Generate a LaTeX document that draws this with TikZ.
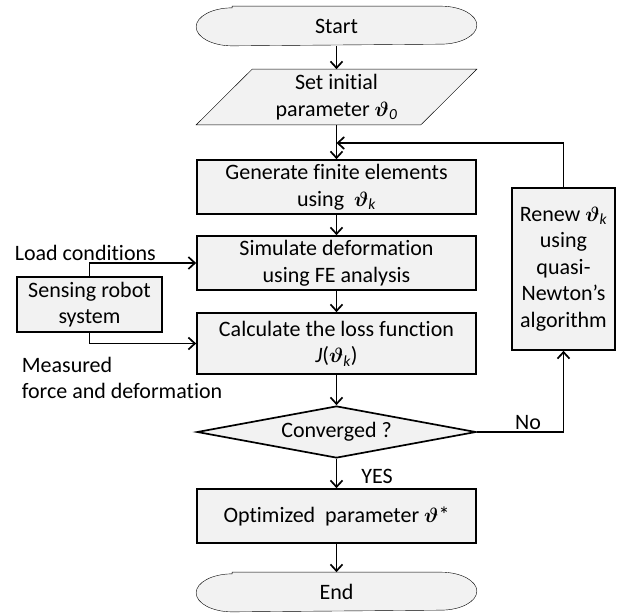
\documentclass[tikz,border=0pt]{standalone}
\usepackage{fontspec}
\setmainfont[Ligatures=NoCommon]{Carlito}
\usetikzlibrary{arrows.meta,shapes.geometric,backgrounds,calc}
\definecolor{boxfill}{HTML}{F2F2F2}
\newcommand{\vth}{$\boldsymbol{\vartheta}$}
\usepackage{amsmath}
\begin{document}
\begin{tikzpicture}[x=1pt,y=-1pt,
  font=\fontsize{22}{26.5}\selectfont,
  line width=1.7pt,
  arr/.style={-{Straight Barb[length=6.5pt,width=12pt,line width=1.7pt]}},
  procbox/.style={draw, fill=boxfill, align=center, inner sep=0pt},
  flowbox/.style={procbox, minimum width=279pt, minimum height=54pt},
  shapefill/.style={draw, fill=boxfill},
  plain/.style={inner sep=0pt, align=center}]
\useasboundingbox (0,0) rectangle (621,614);

% terminals and input: text nodes, outlines drawn on the background layer
\node[plain, minimum width=279pt, minimum height=38pt] (start) at (336.5,26) {Start};
\node[plain, minimum width=223pt, minimum height=54pt] (init) at (336.5,97) {Set initial\\parameter \vth\textsubscript{\itshape 0}};
\node[plain, minimum width=279pt, minimum height=38pt] (end) at (336.5,592) {End};

\begin{scope}[on background layer]
  \foreach \t in {start,end}{
    \filldraw[shapefill] ([xshift=36pt]\t.north west) -- ([xshift=-36pt]\t.north east)
      arc[start angle=90,end angle=-90,x radius=36pt,y radius=19pt]
      -- ([xshift=36pt]\t.south west)
      arc[start angle=270,end angle=90,x radius=36pt,y radius=19pt] -- cycle;
  }
  \filldraw[shapefill] ([xshift=28pt]init.north west) -- ([xshift=28pt]init.north east)
    -- ([xshift=-28pt]init.south east) -- ([xshift=-28pt]init.south west) -- cycle;
\end{scope}

% process boxes
\node[flowbox] (gen) at (336.5,187) {Generate finite elements\\using\ \ \vth\textsubscript{\itshape k}};
\node[flowbox] (sim) at (336.5,263) {Simulate deformation\\using FE analysis};
\node[flowbox, minimum height=61pt] (calc) at (336.5,343.5) {Calculate the loss function\\{\itshape J}(\vth\textsubscript{\itshape k})};
\node[draw, fill=boxfill, diamond, aspect=5.37, minimum width=279pt, minimum height=52pt, inner sep=0pt] (conv) at (336.5,432) {Converged ?};
\node[flowbox] (opt) at (336.5,516) {Optimized\ \ parameter \vth*};

\node[procbox, minimum width=145pt, minimum height=55pt] (sense) at (89.5,304.5) {Sensing robot\\system};
\node[procbox, minimum width=103pt, minimum height=162pt] (renew) at (563.5,269) {Renew \vth\textsubscript{\itshape k}\\using\\quasi-\\Newton’s\\algorithm};

% labels
\node[plain, anchor=west] (load) at (14,253) {Load conditions};
\node[plain, anchor=north west, align=left] (meas) at (21,356) {Measured\\force and deformation};
\node[plain] (yes) at (377,476) {YES};
\node[plain] (no) at (528,423) {No};

% main flow
\draw[arr] (start) -- (init);
\draw[arr] (init) -- (gen);
\draw[arr] (gen) -- (sim);
\draw[arr] (sim) -- (calc);
\draw[arr] (calc) -- (conv);
\draw[arr] (conv) -- (opt);
\draw[arr] (opt) -- (end);

% loop back through the update step
\coordinate (fb) at (566,143);
\draw[arr] (conv.east) -| (renew.south);
\draw[arr] (renew.north) |- (init.south |- fb);

% measurements from the robot
\draw[arr] (sense.north) |- (sim.west);
\draw[arr] (sense.south) |- (calc.west);
\end{tikzpicture}
\end{document}
